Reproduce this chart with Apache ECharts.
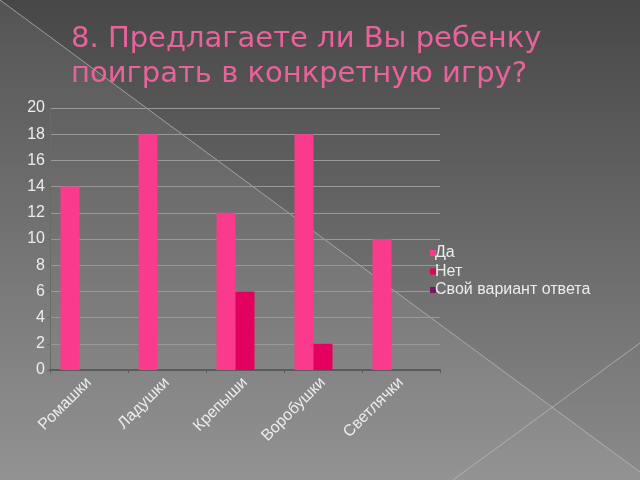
<!DOCTYPE html>
<html><head><meta charset="utf-8">
<script src="https://cdn.jsdelivr.net/npm/echarts@6/dist/echarts.min.js"></script>
<style>html,body{margin:0;padding:0;}#c{width:640px;height:480px;}</style>
</head><body><div id="c"></div>
<script>
const titleLines = ['8. Предлагаете ли Вы ребенку', 'поиграть в конкретную игру?'];
const categories = ['Ромашки', 'Ладушки', 'Крепыши', 'Воробушки', 'Светлячки'];
const seriesNames = ['Да', 'Нет', 'Свой вариант ответа'];
const valuesDa = [14, 18, 12, 18, 10];
const valuesNet = [0, 0, 6, 2, 0];
const valuesSvoi = [0, 0, 0, 0, 0];
const colors = ['#fa3a8c', '#e3005e', '#7b1465'];

const chart = echarts.init(document.getElementById('c'));
const font = 'Liberation Sans, Arial, sans-serif';
chart.setOption({
  animation: false,
  backgroundColor: {
    type: 'linear', x: 0, y: 0, x2: 0, y2: 1,
    colorStops: [{offset: 0, color: '#474747'}, {offset: 1, color: '#8b8b8b'}]
  },
  graphic: [
    {type: 'polygon', z: -10, silent: true,
     shape: {points: [[0,0],[640,472],[640,480],[0,480]]},
     style: {fill: 'rgba(255,255,255,0.07)'}},
    {type: 'line', z: -9, silent: true,
     shape: {x1: 0, y1: 0, x2: 640, y2: 472},
     style: {stroke: 'rgba(190,190,190,0.7)', lineWidth: 1}},
    {type: 'line', z: -9, silent: true,
     shape: {x1: 453, y1: 480, x2: 640, y2: 343},
     style: {stroke: 'rgba(190,190,190,0.7)', lineWidth: 1}},
    {type: 'text', left: 71, top: 22, z: 10,
     style: {text: titleLines.join('\n'), fill: '#e8629c', font: '29px "DejaVu Sans", sans-serif', lineHeight: 35}}
  ],
  color: colors,
  grid: {left: 50, right: 200, top: 108, bottom: 110, containLabel: false},
  legend: {
    orient: 'vertical', left: 425, top: 240,
    data: seriesNames, icon: 'rect', itemWidth: 6, itemHeight: 6, itemGap: 2.5,
    textStyle: {color: '#ececec', fontSize: 16, lineHeight: 16, fontFamily: font, padding: [0,0,0,-6]}
  },
  xAxis: {
    type: 'category', data: categories,
    axisLine: {lineStyle: {color: '#5a5a5a', width: 2}},
    axisTick: {show: true, length: 3, lineStyle: {color: '#5a5a5a'}},
    axisLabel: {rotate: 45, color: '#ececec', fontSize: 16, fontFamily: font, margin: 10}
  },
  yAxis: {
    type: 'value', min: 0, max: 20, interval: 2,
    axisLine: {show: true, lineStyle: {color: '#6a6a6a'}},
    axisTick: {show: true, length: 3, lineStyle: {color: '#6a6a6a'}},
    splitLine: {lineStyle: {color: '#999999', width: 1}},
    axisLabel: {color: '#ececec', fontSize: 16, fontFamily: font, margin: 5}
  },
  series: [
    {name: seriesNames[0], type: 'bar', data: valuesDa, barWidth: 19, barGap: '0%'},
    {name: seriesNames[1], type: 'bar', data: valuesNet, barWidth: 19, barGap: '0%'},
    {name: seriesNames[2], type: 'bar', data: valuesSvoi, barWidth: 19, barGap: '0%'}
  ]
});
</script></body></html>
